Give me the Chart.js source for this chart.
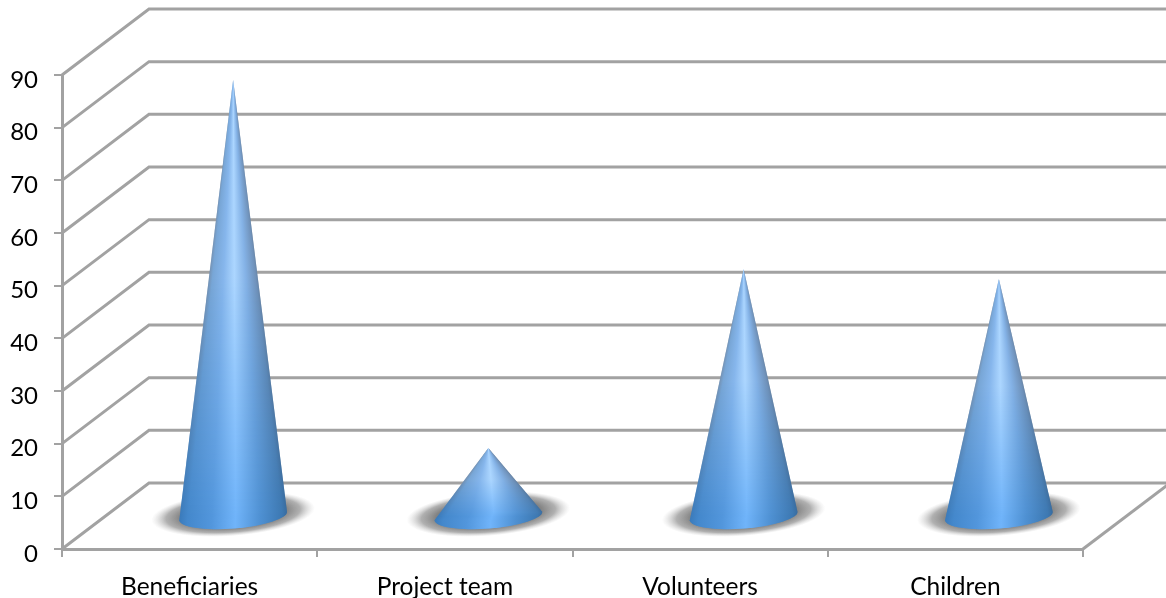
<!DOCTYPE html>
<html>
<head>
<meta charset="utf-8">
<title>Cone chart</title>
<script src="https://cdn.jsdelivr.net/npm/chart.js@4/dist/chart.umd.min.js"></script>
<style>
    html, body { margin: 0; padding: 0; background: #fff; }
    #wrap { width: 1166px; height: 598px; }
</style>
</head>
<body>
<div id="wrap"><canvas id="coneChart"></canvas></div>
<script>
// Chart data
const categories = ['Beneficiaries', 'Project team', 'Volunteers', 'Children'];
const coneValues = [82.8, 12.9, 46.9, 45];
const axisMin = 0;
const axisMax = 90;
const axisStep = 10;

// Look of the fake 3D box
const frameColor = '#a2a2a2';
const depthX = 87;
const depthY = -66;
const baseRadiusX = 54;
const baseRadiusY = 12.5;
const baseTilt = -4.5 * Math.PI / 180;

// Shade across the cone, near the tip and near the base
const topShades = [[0, [116, 144, 176]], [0.08, [120, 166, 214]], [0.3, [134, 182, 236]], [0.52, [172, 214, 255]], [0.75, [132, 178, 230]], [0.95, [112, 146, 186]], [1, [104, 132, 164]]];
const baseShades = [[0, [58, 122, 186]], [0.05, [68, 136, 204]], [0.3, [82, 150, 220]], [0.52, [112, 180, 250]], [0.75, [78, 144, 210]], [0.95, [60, 120, 178]], [1, [54, 106, 158]]];

function toColor(a, b, t) {
    return 'rgb(' + a.map((v, i) => Math.round(v + (b[i] - v) * t)).join(',') + ')';
}

// Back wall, floor and the diagonal connectors, drawn behind the cones
const boxPlugin = {
    id: 'box',
    beforeDatasetsDraw(chart) {
        const { ctx, chartArea, scales } = chart;
        const y = scales.y;
        ctx.save();
        ctx.strokeStyle = frameColor;
        ctx.lineWidth = 3;
        y.ticks.forEach(tick => {
            const py = y.getPixelForValue(tick.value);
            ctx.beginPath();
            ctx.moveTo(chartArea.left, py);
            ctx.lineTo(chartArea.left + depthX, py + depthY);
            ctx.lineTo(chart.width, py + depthY);
            ctx.stroke();
        });
        // right side of the floor
        ctx.beginPath();
        ctx.moveTo(chartArea.right, chartArea.bottom);
        ctx.lineTo(chartArea.right + depthX, chartArea.bottom + depthY);
        ctx.stroke();
        ctx.restore();
    }
};

// Cones are drawn on top of the (invisible) bars, using their scale positions
const conePlugin = {
    id: 'cones',
    afterDatasetsDraw(chart) {
        const { ctx } = chart;
        chart.getDatasetMeta(0).data.forEach(bar => {
            const cx = bar.x + depthX / 2;
            const apexY = bar.y + depthY / 2;
            const baseY = bar.base + depthY / 2 + 1;

            // soft shadow on the floor
            ctx.save();
            ctx.translate(cx, baseY - 2);
            ctx.rotate(baseTilt);
            ctx.scale(1, 22 / 82);
            const glow = ctx.createRadialGradient(0, 0, 0, 0, 0, 82);
            glow.addColorStop(0, 'rgba(130,130,130,1)');
            glow.addColorStop(0.64, 'rgba(130,130,130,1)');
            glow.addColorStop(0.82, 'rgba(150,150,150,0.75)');
            glow.addColorStop(1, 'rgba(200,200,200,0)');
            ctx.fillStyle = glow;
            ctx.beginPath();
            ctx.arc(0, 0, 82, 0, Math.PI * 2);
            ctx.fill();
            ctx.restore();

            // cone outline: tip down to both sides, round the front of the base
            const leftX = cx - baseRadiusX * Math.cos(baseTilt);
            const rightX = cx + baseRadiusX * Math.cos(baseTilt);
            const leftY = baseY - baseRadiusX * Math.sin(baseTilt);
            const rightY = baseY + baseRadiusX * Math.sin(baseTilt);
            ctx.save();
            ctx.beginPath();
            ctx.moveTo(cx, apexY);
            ctx.lineTo(leftX, leftY);
            ctx.ellipse(cx, baseY, baseRadiusX, baseRadiusY, baseTilt, Math.PI, 0, true);
            ctx.closePath();
            ctx.clip();

            // one row at a time, shade running from left edge to right edge
            const bottom = Math.ceil(baseY + baseRadiusY + 2);
            for (let py = Math.floor(apexY); py < bottom; py++) {
                const v = Math.min(1, Math.max(0, (py - apexY) / (baseY - apexY)));
                const k = Math.min(1, Math.max(0, (v - 0.45) / 0.55));
                const x0 = cx + (leftX - cx) * Math.min(1, (py - apexY) / (leftY - apexY));
                const x1 = cx + (rightX - cx) * Math.min(1, (py - apexY) / (rightY - apexY));
                const grad = ctx.createLinearGradient(x0 - 0.5, 0, x1 + 0.5, 0);
                topShades.forEach((stop, i) => {
                    grad.addColorStop(stop[0], toColor(stop[1], baseShades[i][1], k));
                });
                ctx.fillStyle = grad;
                ctx.fillRect(x0 - 2, py, x1 - x0 + 4, 1.5);
            }
            ctx.restore();
        });
    }
};

document.addEventListener('DOMContentLoaded', () => {
    const ctx = document.getElementById('coneChart').getContext('2d');
    new Chart(ctx, {
        type: 'bar',
        data: {
            labels: categories,
            datasets: [{
                label: 'Count',
                data: coneValues,
                backgroundColor: 'rgba(0,0,0,0)',
                borderWidth: 0
            }]
        },
        options: {
            responsive: true,
            maintainAspectRatio: false,
            animation: false,
            layout: { padding: { top: 75, right: 83, left: 0, bottom: 0 } },
            plugins: {
                legend: { display: false },
                title: { display: false },
                tooltip: { enabled: false }
            },
            scales: {
                x: {
                    afterFit: scale => { scale.height = 49; },
                    border: { color: frameColor, width: 3 },
                    grid: { drawOnChartArea: false, color: frameColor, lineWidth: 2, tickLength: 8 },
                    ticks: { color: '#000', font: { family: 'Lato', size: 24.5 }, padding: 15, maxRotation: 0 }
                },
                y: {
                    min: axisMin,
                    max: axisMax,
                    afterFit: scale => { scale.width = 62; },
                    border: { color: frameColor, width: 3 },
                    grid: { drawOnChartArea: false, color: frameColor, lineWidth: 2, tickLength: 8 },
                    ticks: { stepSize: axisStep, color: '#000', font: { family: 'Lato', size: 24 }, padding: 16, labelOffset: 5 }
                }
            }
        },
        plugins: [boxPlugin, conePlugin]
    });
});
</script>
</body>
</html>
